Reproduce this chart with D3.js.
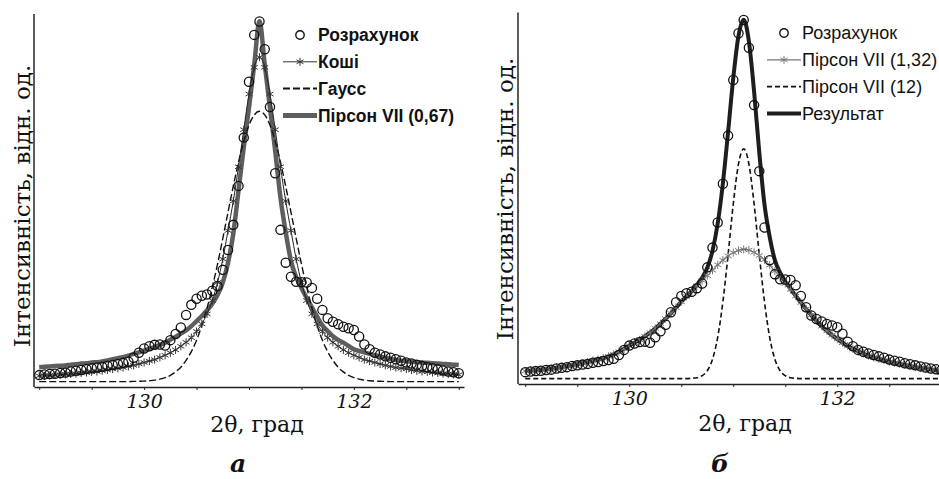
<!DOCTYPE html>
<html>
<head>
<meta charset="utf-8">
<script src="https://cdn.jsdelivr.net/npm/d3@7"></script>
<style>
  body { margin: 0; background: #fff; }
  svg { display: block; }
  .axis .tick text { font-family: "DejaVu Serif", serif; font-style: italic; font-size: 19px; fill: #111; }
  .axis path, .axis line { stroke: #222; }
  .title { font-family: "DejaVu Serif", serif; fill: #111; }
</style>
</head>
<body>
<svg id="chart" width="939" height="479"></svg>
<script>

// 2θ grid, degrees (same for all series)
var twoTheta = [
  129.00, 129.05, 129.10, 129.15, 129.20, 129.25, 129.30, 129.35, 129.40, 129.45,
  129.50, 129.55, 129.60, 129.65, 129.70, 129.75, 129.80, 129.85, 129.90, 129.95,
  130.00, 130.05, 130.10, 130.15, 130.20, 130.25, 130.30, 130.35, 130.40, 130.45,
  130.50, 130.55, 130.60, 130.65, 130.70, 130.75, 130.80, 130.85, 130.90, 130.95,
  131.00, 131.05, 131.10, 131.15, 131.20, 131.25, 131.30, 131.35, 131.40, 131.45,
  131.50, 131.55, 131.60, 131.65, 131.70, 131.75, 131.80, 131.85, 131.90, 131.95,
  132.00, 132.05, 132.10, 132.15, 132.20, 132.25, 132.30, 132.35, 132.40, 132.45,
  132.50, 132.55, 132.60, 132.65, 132.70, 132.75, 132.80, 132.85, 132.90, 132.95,
  133.00];

// Розрахунок (circles, both panels)
var calcValues = [
  1.8, 2.0, 2.1, 2.2, 2.4, 2.5, 2.8, 3.0, 3.2, 3.5,
  3.7, 3.9, 4.1, 4.4, 4.6, 4.9, 5.2, 5.5, 6.6, 8.0,
  9.2, 9.8, 10.2, 10.3, 10.0, 11.5, 13.2, 15.0, 18.5, 21.3,
  23.0, 23.8, 24.2, 25.2, 26.5, 31.0, 36.5, 43.5, 54.3, 67.7,
  83.2, 96.2, 99.9, 92.2, 76.2, 57.8, 42.1, 33.0, 29.1, 27.7,
  27.6, 27.5, 26.0, 23.0, 19.9, 17.6, 16.6, 15.9, 15.2, 14.8,
  14.3, 12.5, 10.3, 9.0, 8.0, 7.5, 7.0, 6.6, 6.2, 5.8,
  5.3, 5.0, 4.7, 4.3, 4.0, 3.7, 3.4, 3.1, 2.8, 2.6,
  2.3];

// panel а
var cauchyValues = [
  1.6, 1.6, 1.7, 1.8, 1.9, 2.0, 2.1, 2.2, 2.4, 2.5,
  2.7, 2.8, 3.0, 3.2, 3.5, 3.7, 3.9, 4.2, 4.5, 4.9,
  5.3, 5.7, 6.1, 6.7, 7.3, 8.0, 8.8, 9.8, 10.9, 12.2,
  13.9, 16.0, 18.8, 22.5, 27.5, 34.0, 41.9, 50.1, 59.6, 69.9,
  79.8, 87.2, 90.0, 87.2, 79.8, 69.9, 59.6, 50.1, 41.9, 34.0,
  27.5, 22.5, 18.8, 16.0, 13.9, 12.2, 10.9, 9.8, 8.8, 8.0,
  7.3, 6.7, 6.1, 5.7, 5.3, 4.9, 4.5, 4.2, 3.9, 3.7,
  3.5, 3.2, 3.0, 2.8, 2.7, 2.5, 2.4, 2.2, 2.1, 2.0,
  1.9];
var gaussValues = [
  0, 0, 0, 0, 0, 0, 0, 0, 0, 0,
  0, 0, 0, 0, 0, 0, 0, 0, 0.05, 0.08,
  0.14, 0.25, 0.4, 0.7, 1.1, 1.7, 2.7, 4.0, 5.9, 8.3,
  11.5, 15.5, 20.4, 26.2, 32.6, 39.7, 47.0, 54.2, 60.9, 66.7,
  71.2, 74.0, 75.0, 74.0, 71.2, 66.7, 60.9, 54.2, 47.0, 39.7,
  32.6, 26.2, 20.4, 15.5, 11.5, 8.3, 5.9, 4.0, 2.7, 1.7,
  1.1, 0.7, 0.4, 0.25, 0.14, 0.08, 0.05, 0, 0, 0,
  0, 0, 0, 0, 0, 0, 0, 0, 0, 0,
  0];
var pearson067Values = [
  4.0, 4.1, 4.2, 4.3, 4.4, 4.5, 4.7, 4.8, 5.0, 5.1,
  5.3, 5.4, 5.6, 5.9, 6.2, 6.5, 6.8, 7.2, 7.7, 8.1,
  8.6, 9.1, 9.6, 10.2, 10.8, 11.6, 12.4, 13.3, 14.2, 15.4,
  16.8, 18.2, 19.8, 21.6, 24.0, 27.5, 33.0, 41.0, 53.0, 65.0,
  76.0, 88.0, 100.0, 88.0, 76.0, 64.0, 51.0, 41.5, 33.5, 29.0,
  26.0, 23.2, 20.6, 18.0, 15.6, 14.0, 12.6, 11.6, 10.8, 9.9,
  9.0, 8.5, 8.1, 7.7, 7.3, 7.0, 6.6, 6.3, 6.0, 5.8,
  5.7, 5.5, 5.4, 5.3, 5.2, 5.1, 5.0, 4.9, 4.8, 4.7,
  4.6];

// panel б
var pearson132Values = [
  2.1, 2.2, 2.3, 2.5, 2.6, 2.8, 3.0, 3.2, 3.5, 3.7,
  4.0, 4.3, 4.6, 5.0, 5.3, 5.7, 6.2, 6.8, 7.5, 8.3,
  9.2, 10.0, 10.8, 11.8, 12.8, 14.0, 15.3, 16.7, 18.2, 19.8,
  21.4, 22.9, 24.3, 25.8, 27.3, 28.7, 30.2, 31.7, 33.0, 34.2,
  35.1, 35.7, 36.0, 35.8, 35.2, 34.3, 33.1, 31.6, 30.0, 28.2,
  26.5, 24.8, 23.0, 21.2, 19.4, 17.7, 16.1, 14.6, 13.3, 12.1,
  11.0, 10.0, 9.1, 8.3, 7.6, 7.0, 6.4, 5.9, 5.5, 5.1,
  4.7, 4.4, 4.1, 3.8, 3.5, 3.2, 3.0, 2.8, 2.5, 2.3,
  2.1];
var pearson12Values = [
  0, 0, 0, 0, 0, 0, 0, 0, 0, 0,
  0, 0, 0, 0, 0, 0, 0, 0, 0, 0,
  0, 0, 0, 0, 0, 0, 0, 0, 0, 0,
  0, 0, 0.1, 0.25, 0.8, 2.2, 5.4, 11.5, 21.4, 34.5,
  48.7, 59.8, 64.0, 59.8, 48.7, 34.5, 21.4, 11.5, 5.4, 2.2,
  0.8, 0.25, 0.1, 0, 0, 0, 0, 0, 0, 0,
  0, 0, 0, 0, 0, 0, 0, 0, 0, 0,
  0, 0, 0, 0, 0, 0, 0, 0, 0, 0,
  0];
var resultValues = [
  2.1, 2.2, 2.3, 2.5, 2.6, 2.8, 3.0, 3.2, 3.5, 3.7,
  4.0, 4.3, 4.6, 5.0, 5.3, 5.7, 6.2, 6.8, 7.5, 8.3,
  9.2, 10.0, 10.8, 11.8, 12.8, 14.0, 15.3, 16.7, 18.2, 19.8,
  21.4, 22.9, 24.4, 26.1, 28.1, 30.9, 35.6, 43.2, 54.4, 68.7,
  83.8, 95.5, 100.0, 94.0, 80.0, 63.0, 48.5, 39.5, 33.0, 29.5,
  27.0, 25.0, 23.1, 21.2, 19.4, 17.7, 16.1, 14.6, 13.3, 12.1,
  11.0, 10.0, 9.1, 8.3, 7.6, 7.0, 6.4, 5.9, 5.5, 5.1,
  4.7, 4.4, 4.1, 3.8, 3.5, 3.2, 3.0, 2.8, 2.5, 2.3,
  2.1];

var tickValues = [129, 129.5, 130, 130.5, 131, 131.5, 132, 132.5, 133];
var labelledTicks = [130, 132];
var legendA = ["Розрахунок", "Коші", "Гаусс", "Пірсон VII (0,67)"];
var legendB = ["Розрахунок", "Пірсон VII (1,32)", "Пірсон VII (12)", "Результат"];
var yTitle = "Інтенсивність, відн. од.";
var xTitle = "2θ, град";
var panelLetters = ["а", "б"];

function toPoints(values) {
  return values.map(function(v, i) { return {x: twoTheta[i], y: v}; });
}

var svg = d3.select("#chart");
var asterisk = d3.symbol().type(d3.symbolAsterisk).size(45);

// one panel = axes + titles; returns the scales
function drawFrame(p) {
  var g = svg.append("g");
  var x = d3.scaleLinear().domain(p.xDomain).range(p.xRange);
  var y = d3.scaleLinear().domain([-1.5, 102]).range(p.yRange);

  g.append("g")
    .attr("class", "axis")
    .attr("transform", "translate(0," + p.yRange[0] + ")")
    .call(d3.axisBottom(x)
      .tickValues(tickValues)
      .tickSize(3)
      .tickSizeOuter(0)
      .tickPadding(5)
      .tickFormat(function(d) { return labelledTicks.indexOf(d) >= 0 ? d : ""; }))
    .call(function(a) { a.select(".domain").attr("stroke-width", 1.6); });

  g.append("line")
    .attr("x1", p.xRange[0]).attr("x2", p.xRange[0])
    .attr("y1", p.yRange[0]).attr("y2", p.yRange[1])
    .attr("stroke", "#333").attr("stroke-width", 1.6);

  g.append("text")
    .attr("class", "title")
    .attr("transform", "translate(" + p.yTitlePos[0] + "," + p.yTitlePos[1] + ") rotate(-90)")
    .attr("text-anchor", "middle")
    .style("font-size", "23px")
    .text(yTitle);

  g.append("text")
    .attr("class", "title")
    .attr("x", p.xTitlePos[0]).attr("y", p.xTitlePos[1])
    .attr("text-anchor", "middle")
    .style("font-size", "22px")
    .text(xTitle);

  g.append("text")
    .attr("class", "title")
    .attr("x", p.letterPos[0]).attr("y", p.letterPos[1])
    .attr("text-anchor", "middle")
    .style("font-size", "25px")
    .style("font-style", "italic")
    .style("font-weight", "bold")
    .text(p.letter);

  return {g: g, x: x, y: y};
}

function drawLine(f, values, stroke, width, dash) {
  var line = d3.line()
    .x(function(d) { return f.x(d.x); })
    .y(function(d) { return f.y(d.y); })
    .curve(d3.curveMonotoneX);
  f.g.append("path")
    .datum(toPoints(values))
    .attr("fill", "none")
    .attr("stroke", stroke)
    .attr("stroke-width", width)
    .attr("stroke-dasharray", dash || null)
    .attr("stroke-linejoin", "round")
    .attr("d", line);
}

function drawStars(f, values, stroke) {
  f.g.append("g").selectAll("path")
    .data(toPoints(values))
    .enter().append("path")
    .attr("transform", function(d) { return "translate(" + f.x(d.x) + "," + f.y(d.y) + ")"; })
    .attr("d", asterisk)
    .attr("fill", "none")
    .attr("stroke", stroke)
    .attr("stroke-width", 1);
}

function drawCircles(f, values) {
  f.g.append("g").selectAll("circle")
    .data(toPoints(values))
    .enter().append("circle")
    .attr("cx", function(d) { return f.x(d.x); })
    .attr("cy", function(d) { return f.y(d.y); })
    .attr("r", 4.6)
    .attr("fill", "none")
    .attr("stroke", "#111")
    .attr("stroke-width", 1.3);
}

// legend: kinds = circle | star | dash | thick
function drawLegend(names, kinds, styles, lx, ly, gap, weight, size) {
  var lg = svg.append("g");
  names.forEach(function(name, i) {
    var cy = ly + i * gap;
    var s = styles[i];
    if (kinds[i] === "circle") {
      lg.append("circle").attr("cx", lx + 17).attr("cy", cy).attr("r", 4.2)
        .attr("fill", "none").attr("stroke", "#111").attr("stroke-width", 1.4);
    } else {
      lg.append("line").attr("x1", lx).attr("x2", lx + 34).attr("y1", cy).attr("y2", cy)
        .attr("stroke", s.stroke).attr("stroke-width", s.width)
        .attr("stroke-dasharray", s.dash || null);
      if (kinds[i] === "star") {
        lg.append("path").attr("transform", "translate(" + (lx + 17) + "," + cy + ")")
          .attr("d", asterisk).attr("fill", "none").attr("stroke", s.stroke).attr("stroke-width", 1);
      }
    }
    lg.append("text")
      .attr("x", lx + 35).attr("y", cy).attr("dy", "0.36em")
      .style("font-family", "'Liberation Sans', Arial, sans-serif")
      .style("font-size", size + "px")
      .style("font-weight", weight)
      .style("fill", "#111")
      .text(name);
  });
}

// panel а
var fa = drawFrame({
  xDomain: [128.95, 133.05], xRange: [34, 464], yRange: [387, 14],
  yTitlePos: [30, 206], xTitlePos: [257, 432], letterPos: [238, 472], letter: panelLetters[0]
});
drawLine(fa, pearson067Values, "#5e5e5e", 4.5);
drawLine(fa, gaussValues, "#111", 1.4, "7,3");
drawLine(fa, cauchyValues, "#222", 1);
drawStars(fa, cauchyValues, "#333");
drawCircles(fa, calcValues);
drawLegend(legendA, ["circle", "star", "dash", "thick"],
  [{}, {stroke: "#333", width: 1}, {stroke: "#111", width: 2, dash: "7,3"}, {stroke: "#5e5e5e", width: 5}],
  283, 35, 26.8, "bold", 17.5);

// panel б
var fb = drawFrame({
  xDomain: [128.93, 133.1], xRange: [518, 951.7], yRange: [384, 12.5],
  yTitlePos: [513, 199], xTitlePos: [745, 431], letterPos: [720, 472], letter: panelLetters[1]
});
drawLine(fb, resultValues, "#1e1e1e", 4);
drawLine(fb, pearson12Values, "#111", 1.6, "5,3");
drawLine(fb, pearson132Values, "#555", 1);
drawStars(fb, pearson132Values, "#777");
drawCircles(fb, calcValues);
drawLegend(legendB, ["circle", "star", "dash", "thick"],
  [{}, {stroke: "#777", width: 1.2}, {stroke: "#111", width: 1.8, dash: "5,3"}, {stroke: "#1e1e1e", width: 4}],
  767, 33, 26.8, "normal", 18);

</script>
</body>
</html>
